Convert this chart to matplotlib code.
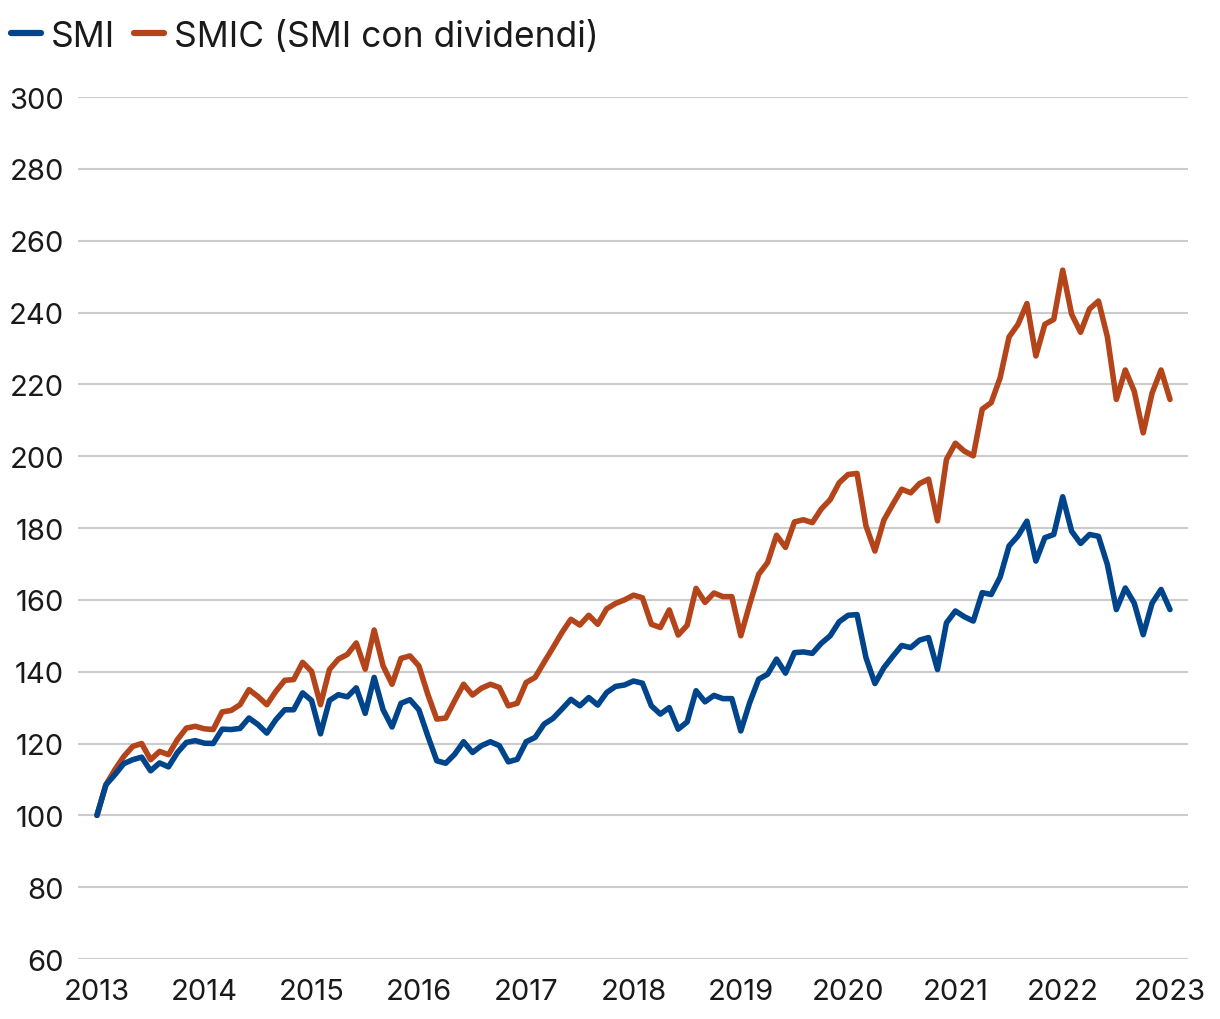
import numpy as np
import matplotlib
matplotlib.use("Agg")
import matplotlib.pyplot as plt

# monthly index values, Jan 2013 = 100
smi = [100.0, 108.5, 111.3, 114.4, 115.5, 116.2, 112.4, 114.6, 113.5, 117.5,
       120.3, 120.8, 120.1, 120.0, 124.0, 123.9, 124.2, 127.1, 125.3, 122.9,
       126.6, 129.4, 129.4, 134.1, 132.0, 122.7, 132.0, 133.6, 133.0, 135.5,
       128.4, 138.4, 129.4, 124.6, 131.2, 132.2, 129.4, 122.1, 115.2, 114.5,
       117.0, 120.5, 117.5, 119.4, 120.5, 119.4, 114.9, 115.6, 120.5, 121.7,
       125.4, 127.0, 129.6, 132.3, 130.5, 132.8, 130.7, 134.2, 135.9, 136.3,
       137.4, 136.8, 130.5, 128.2, 130.0, 124.0, 126.0, 134.7, 131.6, 133.4,
       132.5, 132.5, 123.5, 131.4, 137.9, 139.3, 143.5, 139.6, 145.3, 145.5,
       145.1, 147.9, 150.0, 153.9, 155.7, 155.9, 143.9, 136.7, 141.1, 144.3,
       147.3, 146.7, 148.8, 149.5, 140.6, 153.6, 156.9, 155.3, 154.1, 162.0,
       161.5, 166.3, 175.0, 177.8, 181.9, 170.8, 177.3, 178.2, 188.7, 179.1,
       175.7, 178.2, 177.7, 169.8, 157.3, 163.3, 159.1, 150.3, 159.1, 162.9,
       157.3]

smic = [100.0, 108.5, 112.7, 116.4, 119.2, 120.0, 115.5, 117.8, 116.9, 121.1,
        124.3, 124.8, 124.1, 123.9, 128.8, 129.2, 130.8, 135.0, 133.1, 130.8,
        134.5, 137.6, 137.8, 142.6, 140.1, 130.8, 140.6, 143.5, 144.8, 148.0,
        140.7, 151.6, 141.6, 136.5, 143.7, 144.4, 141.6, 133.7, 126.8, 127.1,
        131.9, 136.5, 133.5, 135.4, 136.5, 135.6, 130.5, 131.2, 137.0, 138.4,
        142.6, 146.7, 150.9, 154.6, 153.0, 155.7, 153.2, 157.5, 159.0, 160.0,
        161.3, 160.6, 153.2, 152.3, 157.2, 150.2, 152.9, 163.2, 159.3, 161.9,
        160.9, 160.9, 150.0, 158.8, 167.1, 170.4, 178.0, 174.6, 181.7, 182.3,
        181.5, 185.3, 187.9, 192.6, 194.9, 195.2, 180.6, 173.6, 182.2, 186.6,
        190.8, 189.8, 192.4, 193.6, 182.0, 199.1, 203.6, 201.4, 200.1, 213.1,
        214.9, 221.8, 233.2, 236.7, 242.5, 227.9, 236.7, 238.1, 251.8, 239.5,
        234.5, 241.0, 243.2, 233.2, 215.8, 224.0, 218.1, 206.5, 217.6, 224.0,
        215.8]

years = list(range(2013, 2024))
y_ticks = list(range(60, 301, 20))

plt.rcParams['font.family'] = ['Inter', 'DejaVu Sans']

x = 2013 + np.arange(len(smi)) / 12.0

fig = plt.figure(figsize=(12.2, 10.2), dpi=100)
ax = fig.add_axes([0.0639, 0.0588, 0.9099, 0.8451])

ax.plot(x, smi, color='#00458c', lw=4.0, solid_joinstyle='round',
        solid_capstyle='round', label='SMI', zorder=3)
ax.plot(x, smic, color='#b4441a', lw=4.0, solid_joinstyle='round',
        solid_capstyle='round', label='SMIC (SMI con dividendi)', zorder=2)

ax.set_xlim(2012.823, 2023.168)
ax.set_ylim(60, 300)
ax.set_xticks(years)
ax.set_yticks(y_ticks)
ax.grid(axis='y', color='#cccccc', lw=1.5)
ax.set_axisbelow(True)
for s in ax.spines.values():
    s.set_visible(False)
ax.tick_params(axis='both', length=0, labelsize=21, labelcolor='#1a1a1a')
ax.tick_params(axis='y', pad=10)
ax.tick_params(axis='x', pad=13.5)

leg = fig.legend(loc='upper left', bbox_to_anchor=(0.0, 0.99), ncol=2,
                 frameon=False, fontsize=25.5, handlelength=0.85,
                 handletextpad=0.28, columnspacing=0.55, borderaxespad=0.0,
                 borderpad=0.3)
for h in leg.get_lines():
    h.set_linewidth(4.5)
    h.set_solid_capstyle('round')
for t in leg.get_texts():
    t.set_color('#1a1a1a')

fig.savefig('out.png', dpi=100)
plt.close(fig)
